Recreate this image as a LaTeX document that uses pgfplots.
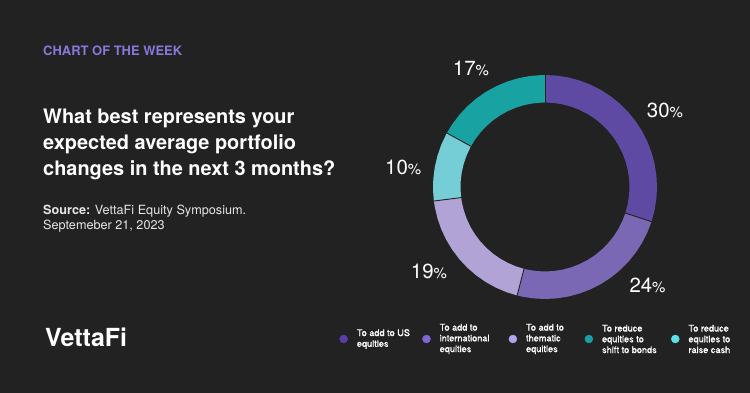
\documentclass[border=0pt]{standalone}
\usepackage{pgfplots}
\pgfplotsset{compat=1.18}
\usepackage{fontspec}
\setmainfont{TeX Gyre Heros}
\newfontfamily\medfont[FakeBold=1.0]{TeX Gyre Heros}
\definecolor{bg}{HTML}{222222}
\definecolor{ttl}{HTML}{8A77DB}
\definecolor{cA}{HTML}{5E4AA3}
\definecolor{cB}{HTML}{7B68B5}
\definecolor{cC}{HTML}{B1A3D6}
\definecolor{cD}{HTML}{75CED6}
\definecolor{cE}{HTML}{18A2A2}
\definecolor{lg1}{HTML}{5A3DA8}
\definecolor{lg2}{HTML}{7E67D2}
\definecolor{lg3}{HTML}{B3A3EE}
\definecolor{lg4}{HTML}{17A0A6}
\definecolor{lg5}{HTML}{5CE1E6}
\definecolor{src}{HTML}{E6E6E6}
% Shares (%): add to US equities 30, add to international 24, thematic 19,
% reduce to raise cash 10, reduce to shift to bonds 17
% 1% = 3.6 degrees; clockwise from top.
\begin{document}
\begin{tikzpicture}
\fill[bg] (0,0) rectangle (750bp,393bp);
\begin{axis}[
  at={(0,0)}, anchor=south west, scale only axis,
  width=750bp, height=393bp,
  xmin=-545, xmax=205, ymin=-206, ymax=187,
  hide axis, clip=false,
  legend cell align=left,
  legend columns=5,
  legend style={at={(0.4524,0.1374)}, anchor=west, draw=none, fill=none,
    inner xsep=0pt, inner ysep=0pt, text=white,
    font=\medfont\fontsize{9.2}{10.8}\selectfont,
    nodes={inner sep=0pt, text depth={}},
    /tikz/every odd column/.append style={column sep=9bp},
    /tikz/every even column/.append style={column sep=0pt}},
]
% 30% : 90 -> -18
\addplot[fill=cA, draw=none, data cs=polar, forget plot] coordinates {
(90,112) (84,112) (78,112) (72,112) (66,112) (60,112) (54,112) (48,112) (42,112) (36,112) (30,112) (24,112) (18,112) (12,112) (6,112) (0,112) (-6,112) (-12,112) (-18,112)
(-18,84.5) (-12,84.5) (-6,84.5) (0,84.5) (6,84.5) (12,84.5) (18,84.5) (24,84.5) (30,84.5) (36,84.5) (42,84.5) (48,84.5) (54,84.5) (60,84.5) (66,84.5) (72,84.5) (78,84.5) (84,84.5) (90,84.5)};
% 24% : -18 -> -104.4
\addplot[fill=cB, draw=none, data cs=polar, forget plot] coordinates {
(-18,112) (-24,112) (-30,112) (-36,112) (-42,112) (-48,112) (-54,112) (-60,112) (-66,112) (-72,112) (-78,112) (-84,112) (-90,112) (-96,112) (-102,112) (-104.4,112)
(-104.4,84.5) (-102,84.5) (-96,84.5) (-90,84.5) (-84,84.5) (-78,84.5) (-72,84.5) (-66,84.5) (-60,84.5) (-54,84.5) (-48,84.5) (-42,84.5) (-36,84.5) (-30,84.5) (-24,84.5) (-18,84.5)};
% 19% : -104.4 -> -172.8
\addplot[fill=cC, draw=none, data cs=polar, forget plot] coordinates {
(-104.4,112) (-110,112) (-116,112) (-122,112) (-128,112) (-134,112) (-140,112) (-146,112) (-152,112) (-158,112) (-164,112) (-170,112) (-172.8,112)
(-172.8,84.5) (-170,84.5) (-164,84.5) (-158,84.5) (-152,84.5) (-146,84.5) (-140,84.5) (-134,84.5) (-128,84.5) (-122,84.5) (-116,84.5) (-110,84.5) (-104.4,84.5)};
% 10% : -172.8 -> -208.8
\addplot[fill=cD, draw=none, data cs=polar, forget plot] coordinates {
(-172.8,112) (-178,112) (-184,112) (-190,112) (-196,112) (-202,112) (-208,112) (-208.8,112)
(-208.8,84.5) (-208,84.5) (-202,84.5) (-196,84.5) (-190,84.5) (-184,84.5) (-178,84.5) (-172.8,84.5)};
% 17% : -208.8 -> -270
\addplot[fill=cE, draw=none, data cs=polar, forget plot] coordinates {
(-208.8,112) (-214,112) (-220,112) (-226,112) (-232,112) (-238,112) (-244,112) (-250,112) (-256,112) (-262,112) (-268,112) (-270,112)
(-270,84.5) (-268,84.5) (-262,84.5) (-256,84.5) (-250,84.5) (-244,84.5) (-238,84.5) (-232,84.5) (-226,84.5) (-220,84.5) (-214,84.5) (-208.8,84.5)};
% separators
\addplot[draw=bg, line width=0.9bp, data cs=polar, forget plot] coordinates {(90,84) (90,112.5)};
\addplot[draw=bg, line width=0.9bp, data cs=polar, forget plot] coordinates {(-18,84) (-18,112.5)};
\addplot[draw=bg, line width=0.9bp, data cs=polar, forget plot] coordinates {(-104.4,84) (-104.4,112.5)};
\addplot[draw=bg, line width=0.9bp, data cs=polar, forget plot] coordinates {(-172.8,84) (-172.8,112.5)};
\addplot[draw=bg, line width=0.9bp, data cs=polar, forget plot] coordinates {(-208.8,84) (-208.8,112.5)};

% value labels
\node[anchor=base west, inner sep=0, text=white, font=\fontsize{20.5}{22}\selectfont] at (axis cs:101.7,69.7) {30{\fontsize{15}{16}\selectfont\%}};
\node[anchor=base west, inner sep=0, text=white, font=\fontsize{20.5}{22}\selectfont] at (axis cs:84.3,-105.3) {24{\fontsize{15}{16}\selectfont\%}};
\node[anchor=base west, inner sep=0, text=white, font=\fontsize{20.5}{22}\selectfont] at (axis cs:-134.3,-92) {19{\fontsize{15}{16}\selectfont\%}};
\node[anchor=base west, inner sep=0, text=white, font=\fontsize{20.5}{22}\selectfont] at (axis cs:-160,12) {10{\fontsize{15}{16}\selectfont\%}};
\node[anchor=base west, inner sep=0, text=white, font=\fontsize{20.5}{22}\selectfont] at (axis cs:-92.3,111.3) {17{\fontsize{15}{16}\selectfont\%}};

% texts
\node[anchor=base west, inner sep=0, text=ttl, font=\bfseries\fontsize{13}{15}\selectfont] at (axis cs:-502,131) {CHART OF THE WEEK};
\node[anchor=base west, inner sep=0, text=white, font=\bfseries\fontsize{20}{24}\selectfont] at (axis cs:-502,63) {What best represents your};
\node[anchor=base west, inner sep=0, text=white, font=\bfseries\fontsize{20}{24}\selectfont] at (axis cs:-502,37) {expected average portfolio};
\node[anchor=base west, inner sep=0, text=white, font=\bfseries\fontsize{20}{24}\selectfont] at (axis cs:-502,11) {changes in the next 3 months?};
\node[anchor=base west, inner sep=0, text=src, font=\fontsize{12.7}{14}\selectfont] at (axis cs:-502,-28) {\textbf{Source:} VettaFi Equity Symposium.};
\node[anchor=base west, inner sep=0, text=src, font=\fontsize{12.7}{14}\selectfont] at (axis cs:-502,-42.5) {Septemeber 21, 2023};
\node[anchor=base west, inner sep=0, text=white, font=\bfseries\fontsize{25}{28}\selectfont] at (axis cs:-500,-160) {VettaFi};

% legend
\addlegendimage{legend image code/.code={\fill[lg1] (4bp,0) circle (4bp);}}
\addlegendentry{\parbox{65.4bp}{To add to US\\equities}}
\addlegendimage{legend image code/.code={\fill[lg2] (4bp,0) circle (4bp);}}
\addlegendentry{\parbox{69bp}{To add to\\international\\equities}}
\addlegendimage{legend image code/.code={\fill[lg3] (4bp,0) circle (4bp);}}
\addlegendentry{\parbox{58.6bp}{To add to\\thematic\\equities}}
\addlegendimage{legend image code/.code={\fill[lg4] (4bp,0) circle (4bp);}}
\addlegendentry{\parbox{69bp}{To reduce\\equities to\\shift to bonds}}
\addlegendimage{legend image code/.code={\fill[lg5] (4bp,0) circle (4bp);}}
\addlegendentry{\parbox{60bp}{To reduce\\equities to\\raise cash}}
\end{axis}
\end{tikzpicture}
\end{document}
